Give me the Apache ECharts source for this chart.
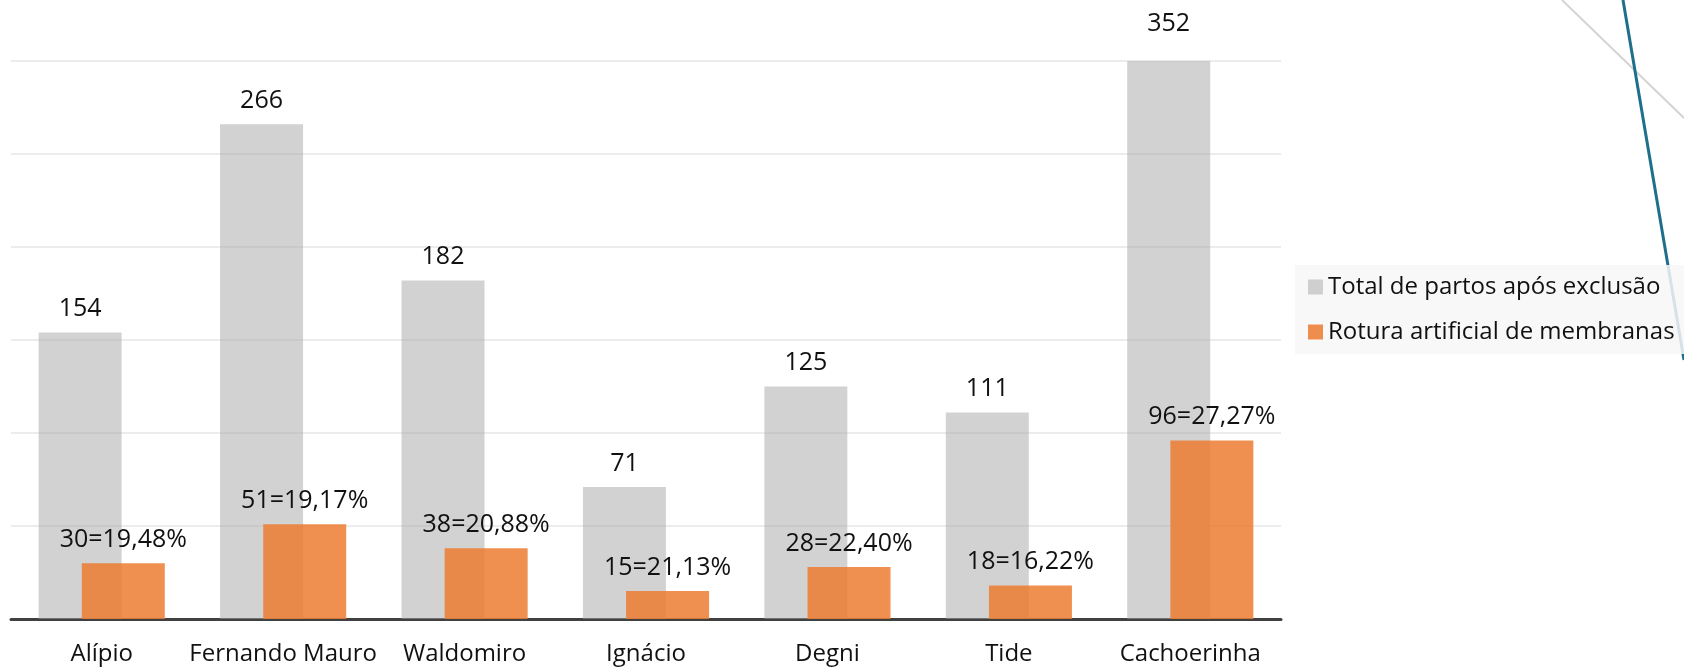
<!DOCTYPE html>
<html>
<head>
<meta charset="utf-8">
<script src="https://cdn.jsdelivr.net/npm/echarts@6/dist/echarts.min.js"></script>
<style>
  html, body { margin: 0; padding: 0; background: #fff; }
  #chart { width: 1684px; height: 667px; }
</style>
</head>
<body>
<div id="chart"></div>
<script>
// dados
const categories = ['Alípio', 'Fernando Mauro', 'Waldomiro', 'Ignácio', 'Degni', 'Tide', 'Cachoerinha'];
const totalPartos = [154, 266, 182, 71, 125, 111, 352];
const roturaArtificial = [30, 51, 38, 15, 28, 18, 96];
const roturaPct = [19.48, 19.17, 20.88, 21.13, 22.40, 16.22, 27.27];
const seriesNames = ['Total de partos após exclusão', 'Rotura artificial de membranas'];

// eixo Y escondido: 0..300 a cada 50, a barra de 352 fica cortada no topo
const Y_MAX = 300;
const Y_STEP = 50;

const FONT = '"Open Sans", "Noto Sans", sans-serif';

const fmtPct = v => v.toFixed(2).replace('.', ',') + '%';

const chart = echarts.init(document.getElementById('chart'));

// barras acima do máximo do eixo: rótulo sobe um pouco mais
const totalData = totalPartos.map(v => v > Y_MAX
  ? { value: v, label: { offset: [0, -14] } }
  : v);

chart.setOption({
  animation: false,
  textStyle: { fontFamily: FONT },
  grid: { left: 11, right: 403, top: 61, bottom: 48 },
  legend: {
    orient: 'vertical',
    left: 1295,
    top: 265,
    padding: [10, 40, 10, 13],
    itemGap: 21,
    itemWidth: 15,
    itemHeight: 15,
    itemTextGap: 10,
    icon: 'rect',
    backgroundColor: 'rgba(247,247,247,0.85)',
    textStyle: { fontFamily: FONT, fontSize: 24, color: '#111' },
    data: seriesNames
  },
  xAxis: {
    type: 'category',
    data: categories,
    axisLine: { lineStyle: { color: '#404040', width: 3 } },
    axisTick: { show: false },
    axisLabel: { interval: 0, fontSize: 24, color: '#111', margin: 23, fontFamily: FONT }
  },
  yAxis: {
    type: 'value',
    min: 0,
    max: Y_MAX,
    interval: Y_STEP,
    axisLabel: { show: false },
    axisLine: { show: false },
    axisTick: { show: false },
    splitLine: { lineStyle: { color: '#e6e6e6', width: 1.5 } }
  },
  graphic: [
    {
      type: 'line', z: 0, silent: true,
      shape: { x1: 1562, y1: 0, x2: 1684, y2: 118 },
      style: { stroke: '#d4d4d4', lineWidth: 2 }
    },
    {
      type: 'line', z: 0, silent: true,
      shape: { x1: 1623, y1: 0, x2: 1684, y2: 360 },
      style: { stroke: '#1d6f8b', lineWidth: 3 }
    }
  ],
  series: [
    {
      name: seriesNames[0],
      type: 'bar',
      data: totalData,
      barWidth: 83,
      barGap: '-48%',
      clip: true,
      itemStyle: { color: 'rgba(165,165,165,0.5)' },
      label: {
        show: true,
        position: 'top',
        distance: 11,
        fontSize: 25,
        color: '#111',
        fontFamily: FONT
      }
    },
    {
      name: seriesNames[1],
      type: 'bar',
      data: roturaArtificial,
      barWidth: 83,
      barGap: '-48%',
      itemStyle: { color: 'rgba(237,125,49,0.85)' },
      label: {
        show: true,
        position: 'top',
        distance: 11,
        fontSize: 25,
        color: '#111',
        fontFamily: FONT,
        formatter: p => p.value + '=' + fmtPct(roturaPct[p.dataIndex])
      }
    }
  ]
});
</script>
</body>
</html>
